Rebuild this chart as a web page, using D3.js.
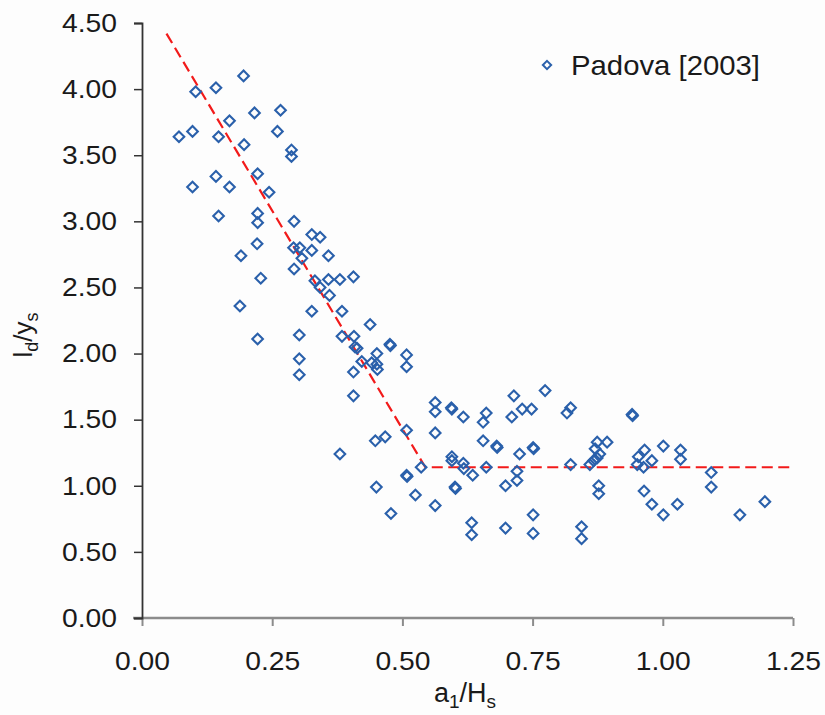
<!DOCTYPE html>
<html>

<head>
    <title>Padova [2003]</title>
    <meta charset="utf-8" />
    <script src="https://d3js.org/d3.v7.min.js"></script>
</head>

<style>
    body {
        margin: 0;
        background: #fdfdfd;
    }

    text {
        font-family: "Liberation Sans", Arial, Helvetica, sans-serif;
        fill: #1a1a1a;
    }
</style>

<body>

    <div id="chart"></div>

    <script>

        // measured points, a1/Hs against ld/ys
        let xValues = [0.195, 0.142, 0.103, 0.216, 0.266, 0.168, 0.071, 0.097, 0.147, 0.260,
            0.196, 0.287, 0.287, 0.222, 0.142, 0.097, 0.168, 0.244, 0.147, 0.222,
            0.222, 0.292, 0.326, 0.342, 0.221, 0.190, 0.291, 0.303, 0.326, 0.307,
            0.358, 0.292, 0.228, 0.332, 0.358, 0.380, 0.406, 0.342, 0.360, 0.188,
            0.326, 0.384, 0.438, 0.302, 0.384, 0.407, 0.222, 0.409, 0.413, 0.476,
            0.477, 0.451, 0.422, 0.441, 0.451, 0.452, 0.508, 0.508, 0.302, 0.302,
            0.406, 0.406, 0.563, 0.563, 0.594, 0.595, 0.617, 0.661, 0.655, 0.714,
            0.774, 0.710, 0.730, 0.748, 0.823, 0.816, 0.941, 0.942, 0.508, 0.563,
            0.448, 0.467, 0.655, 0.681, 0.682, 0.751, 0.752, 0.725, 0.874, 0.893,
            0.870, 0.879, 0.874, 0.867, 0.860, 0.823, 0.965, 0.953, 0.979, 0.951,
            0.963, 1.001, 1.034, 1.034, 0.595, 0.595, 0.617, 0.618, 0.635, 0.661,
            0.536, 0.508, 0.509, 0.720, 0.720, 0.698, 0.601, 0.602, 0.450, 0.525,
            0.380, 0.478, 0.563, 0.633, 0.633, 0.698, 0.751, 0.751, 0.844, 0.844,
            0.877, 0.877, 1.093, 1.093, 0.964, 0.979, 1.028, 1.001, 1.148, 1.196];

        let yValues = [4.10, 4.01, 3.98, 3.82, 3.84, 3.76, 3.64, 3.68, 3.64, 3.68,
            3.58, 3.54, 3.49, 3.36, 3.34, 3.26, 3.26, 3.22, 3.04, 3.06,
            2.99, 3.00, 2.90, 2.88, 2.83, 2.74, 2.80, 2.80, 2.78, 2.72,
            2.74, 2.64, 2.57, 2.55, 2.56, 2.56, 2.58, 2.50, 2.44, 2.36,
            2.32, 2.32, 2.22, 2.14, 2.13, 2.13, 2.11, 2.05, 2.04, 2.07,
            2.06, 2.00, 1.94, 1.93, 1.92, 1.88, 1.99, 1.90, 1.96, 1.84,
            1.86, 1.68, 1.63, 1.56, 1.59, 1.58, 1.52, 1.55, 1.48, 1.68,
            1.72, 1.52, 1.58, 1.58, 1.59, 1.55, 1.54, 1.53, 1.42, 1.40,
            1.34, 1.37, 1.34, 1.30, 1.29, 1.29, 1.28, 1.24, 1.33, 1.33,
            1.28, 1.24, 1.21, 1.19, 1.16, 1.16, 1.27, 1.22, 1.19, 1.16,
            1.14, 1.30, 1.27, 1.20, 1.22, 1.19, 1.17, 1.13, 1.08, 1.14,
            1.14, 1.08, 1.07, 1.11, 1.04, 1.00, 0.99, 0.98, 0.99, 0.93,
            1.24, 0.79, 0.85, 0.72, 0.63, 0.68, 0.78, 0.64, 0.69, 0.60,
            1.00, 0.94, 1.10, 0.99, 0.96, 0.86, 0.86, 0.78, 0.78, 0.88];

        // fitted trend: falling branch, then constant
        let trendX = [0.047, 0.544, 1.25];
        let trendY = [4.42, 1.14, 1.14];

        let xTicks = [0, 0.25, 0.5, 0.75, 1.0, 1.25];
        let yTicks = [0, 0.5, 1, 1.5, 2, 2.5, 3, 3.5, 4, 4.5];

        let seriesName = 'Padova [2003]';

        let margin = { top: 23, left: 142 },
            width = 651,
            height = 595;

        let svg = d3.select('#chart').append('svg')
            .attr('width', 825)
            .attr('height', 715);

        let g = svg.append('g')
            .attr('transform', 'translate(' + margin.left + ',' + margin.top + ')');

        let x = d3.scaleLinear().domain([0, 1.25]).range([0, width]);
        let y = d3.scaleLinear().domain([0, 4.5]).range([height, 0]);

        let fmt = d3.format('.2f');

        // x axis (grey, thick baseline)
        let xAxis = g.append('g')
            .attr('transform', 'translate(0,' + height + ')')
            .call(d3.axisBottom(x).tickValues(xTicks).tickSize(8).tickPadding(26).tickFormat(fmt));
        xAxis.select('.domain').remove();
        xAxis.selectAll('.tick line').attr('stroke', '#8c8c8c').attr('stroke-width', 2);
        xAxis.append('line')
            .attr('x1', -9).attr('x2', width)
            .attr('y1', 0).attr('y2', 0)
            .attr('stroke', '#8c8c8c')
            .attr('stroke-width', 2.5);
        xAxis.selectAll('.tick text')
            .attr('font-size', 26)
            .attr('textLength', 55)
            .attr('lengthAdjust', 'spacingAndGlyphs')
            .style('font-family', '"Liberation Sans", Arial, sans-serif')
            .attr('fill', '#1a1a1a');

        // y axis
        let yAxis = g.append('g')
            .call(d3.axisLeft(y).tickValues(yTicks).tickSize(8).tickPadding(17).tickFormat(fmt));
        yAxis.select('.domain').attr('stroke', '#333').attr('stroke-width', 1.8);
        yAxis.selectAll('.tick line').attr('stroke', '#333').attr('stroke-width', 1.5);
        yAxis.selectAll('.tick text')
            .attr('font-size', 26)
            .attr('textLength', 55)
            .attr('lengthAdjust', 'spacingAndGlyphs')
            .style('font-family', '"Liberation Sans", Arial, sans-serif')
            .attr('fill', '#1a1a1a');

        // dashed trend line
        let line = d3.line()
            .x(function (d) { return x(d[0]); })
            .y(function (d) { return y(d[1]); });

        g.append('path')
            .datum(d3.zip(trendX, trendY))
            .attr('d', line)
            .attr('fill', 'none')
            .attr('stroke', '#f21a1a')
            .attr('stroke-width', 2.2)
            .attr('stroke-dasharray', '11,5.5');

        // data points, hollow diamonds
        let diamond = d3.symbol().type(d3.symbolDiamond2).size(72);

        g.selectAll('path.pt')
            .data(d3.zip(xValues, yValues))
            .enter()
            .append('path')
            .attr('class', 'pt')
            .attr('d', diamond)
            .attr('transform', function (d) { return 'translate(' + x(d[0]) + ',' + y(d[1]) + ')'; })
            .attr('fill', 'none')
            .attr('stroke', '#2a60ab')
            .attr('stroke-width', 2.1);

        // legend
        let legend = svg.append('g').attr('transform', 'translate(547,65)');
        legend.append('path')
            .attr('d', d3.symbol().type(d3.symbolDiamond2).size(44)())
            .attr('fill', 'none')
            .attr('stroke', '#2a60ab')
            .attr('stroke-width', 2);
        legend.append('text')
            .attr('x', 24)
            .attr('y', 10)
            .attr('font-size', 28)
            .attr('textLength', 189)
            .attr('lengthAdjust', 'spacingAndGlyphs')
            .text(seriesName);

        // axis titles
        let xTitle = svg.append('text')
            .attr('x', 465)
            .attr('y', 702)
            .attr('text-anchor', 'middle')
            .attr('font-size', 27);
        xTitle.append('tspan').text('a');
        xTitle.append('tspan').attr('font-size', 19).attr('dy', 6).text('1');
        xTitle.append('tspan').attr('dy', -6).text('/H');
        xTitle.append('tspan').attr('font-size', 19).attr('dy', 6).text('s');

        let yTitle = svg.append('text')
            .attr('transform', 'translate(32,335) rotate(-90)')
            .attr('text-anchor', 'middle')
            .attr('font-size', 26);
        yTitle.append('tspan').text('l');
        yTitle.append('tspan').attr('font-size', 18).attr('dy', 6).text('d');
        yTitle.append('tspan').attr('dy', -6).text('/y');
        yTitle.append('tspan').attr('font-size', 18).attr('dy', 6).text('s');

    </script>

</body>

</html>
